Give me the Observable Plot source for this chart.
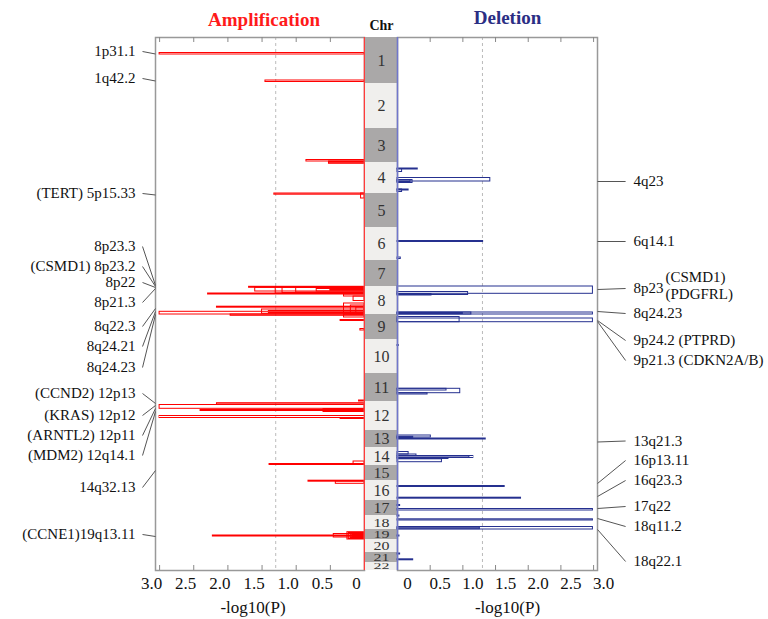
<!DOCTYPE html>
<html><head><meta charset="utf-8">
<script src="https://cdn.jsdelivr.net/npm/d3@7"></script>
<script src="https://cdn.jsdelivr.net/npm/@observablehq/plot@0.6"></script>
<style>
body{margin:0;background:#fff;}
#chart{position:relative;width:768px;height:619px;overflow:hidden;background:#fff;}
#chart svg{position:absolute;top:0;}
</style></head><body><div id="chart"></div>
<script>
// ---------- data ----------
const chromosomes = ["1","2","3","4","5","6","7","8","9","10","11","12","13","14","15","16","17","18","19","20","21","22"];
// relative chromosome lengths as drawn
const chrLengths = [46,45,34,31,34,33,26,28,25,34,28,29,17,18,15,20,15,14,10,13,10,8];
// amplification segments: [chr, start, end, -log10(P)]
const ampSegments = [
 [1,15.5,17,3.0],[1,43,44.5,1.45],
 [3,31.5,33,0.85],[3,33,34,0.52],[4,0,1.3,0.52],
 [5,0,1.2,1.32],[5,0,5,0.05],
 [8,0.3,1.3,1.69],[8,1.3,5,1.60],[8,0.5,7,1.30],[8,1,6.5,1.2],[8,1.5,6,1.0],[8,2.5,5,0.7],[8,3.2,4.2,0.5],
 [8,7,8,2.29],[8,8,10,0.3],[8,10,14.5,0.16],
 [8,20.2,21.2,2.16],[8,17,28,0.3],[8,19,28,0.2],[8,21,27,0.12],[8,23,27.3,1.5],[8,24.5,26.5,1.4],[8,25.3,28,3.0],
 [9,0,1.3,1.96],[9,0,3,0.3],[9,5.5,6.5,0.35],[9,14.5,16,0.06],
 [11,27,28,0.08],
 [12,1.7,3,2.16],[12,3.5,7.3,3.0],[12,8.5,9.5,2.4],[12,7.5,10.5,0.6],[12,8,10,0.45],
 [12,14.5,16.5,3.0],[12,16.5,17.5,0.35],
 [14,16.5,17.5,1.39],[14,14,17.5,0.16],
 [16,0.2,1.2,0.82],[16,1,3.3,0.42],
 [19,6,7,2.22],[19,4.5,8,0.45],[19,2.7,10,0.25],[19,3.5,9.5,0.23],[19,4.5,8.5,0.2],[19,5.5,7.5,0.18]
];
// deletion segments: [chr, start, end, -log10(P)]
const delSegments = [
 [4,6,7,0.31],[4,6.5,9.5,0.07],[4,15.5,19,1.42],[4,17.5,20.5,0.23],[4,18,19.5,0.2],
 [4,27,28,0.17],[4,27,29.5,0.07],
 [6,13.5,14.5,1.31],[6,30,31.5,0.05],
 [8,0,7.3,2.99],[8,5.5,8.5,1.08],[8,7.5,9,0.52],
 [8,26,28,2.99],[8,26,28,1.13],[8,26.5,27.5,1.0],
 [9,4,7.7,2.99],[9,2.5,7.7,0.95],
 [10,5.5,6.5,0.02],
 [11,15.3,19.7,0.96],[11,15.3,17,0.75],[11,19.7,21,0.46],
 [13,5,7,0.51],[13,6.3,8,0.24],[13,6.8,7.6,0.22],[13,8,9,1.35],
 [14,4.5,7,0.17],[14,7,8.5,0.29],[14,8.5,10.5,1.16],[14,8.8,10.2,1.1],[14,10.5,11.5,0.78],[14,11.8,14.7,0.68],
 [16,5.5,6.5,1.64],[16,17.2,18.2,1.89],
 [17,4.5,5.5,0.04],[17,8.5,10,2.99],
 [18,0,1,0.03],[18,3.8,5,2.99],[18,11.5,14,2.99],[18,12.3,13.7,1.26],
 [19,6,7,0.03],
 [21,1,2,0.04],[21,6.8,7.8,0.24]
];
// labels: [text, label position, anchor position] (genome-wide units)
const ampLabels = [
 ["1p31.1",14,16.5],["1q42.2",41,43.5],["(TERT) 5p15.33",156,157.5],
 ["8p23.3",209,248],["(CSMD1) 8p23.2",229,249],["8p22",245,250],["8p21.3",265,251],
 ["8q22.3",289,271],["8q24.21",309,274],["8q24.23",330,277],
 ["(CCND2) 12p13",356,366],["(KRAS) 12p12",378,368],["(ARNTL2) 12p11",398,371],["(MDM2) 12q14.1",418,374],
 ["14q32.13",450,433],["(CCNE1)19q13.11",497,499]
];
const delLabels = [
 ["4q23",144,144],["6q14.1",204,204],["8p23",251,252],["8q24.23",276,274],
 ["9p24.2 (PTPRD)",303,283],["9p21.3 (CDKN2A/B)",323,284],
 ["13q21.3",403.5,404.5],["16p13.11",423,446],["16q23.3",443,459],
 ["17q22",469,471],["18q11.2",489,481],["18q22.1",524,492]
];
const delNotes = [["(CSMD1)",240],["(PDGFRL)",257]];
const xTicks = [0,0.5,1,1.5,2,2.5,3];
const xTickLabels = ["0","0.5","1.0","1.5","2.0","2.5","3.0"];
const innerTicks = [0.5,1,1.5,2,2.5,3];
const threshold = 1.3;
const xMax = 3.06;

// ---------- derived ----------
let acc = 0;
const starts = chrLengths.map(l => { const s = acc; acc += l; return s; });
const total = acc;
const chrData = chromosomes.map((name,i) => ({name, i, len: chrLengths[i], y1: starts[i], y2: starts[i] + chrLengths[i]}));
const toSeg = ([c,s,e,v]) => ({y1: starts[c-1]+s, y2: starts[c-1]+e, v});
const amp = ampSegments.map(toSeg);
const del = delSegments.map(toSeg);
const lab = ([text,at,to]) => ({text, at, to});
const ampLab = ampLabels.map(lab), delLab = delLabels.map(lab);
const notes = delNotes.map(([text,at]) => ({text, at}));
const fmt = d => xTickLabels[xTicks.indexOf(d)];
const font = "'Liberation Serif','Times New Roman',serif";
const common = {height: 619, marginTop: 37, marginBottom: 49,
  style: {fontFamily: font, background: "transparent", overflow: "visible"}};
const yScale = {domain: [0, total], reverse: true, axis: null};

const left = Plot.plot({
  ...common, width: 366, marginLeft: 155, marginRight: 2,
  x: {domain: [0, xMax], reverse: true},
  y: yScale,
  marks: [
    Plot.ruleX([threshold], {stroke: "#bbb", strokeDasharray: "3,3"}),
    Plot.rect(amp, {x1: 0, x2: "v", y1: "y1", y2: "y2", stroke: "#ff0000", fill: "none", strokeWidth: 1}),
    Plot.frame({stroke: "#999", strokeWidth: 1.5}),
    Plot.ruleX([0], {stroke: "#ff3b3b", strokeWidth: 1.5}),
    Plot.ruleX(innerTicks, {x: d => d, y1: 0, y2: 5, stroke: "#888"}),
    Plot.ruleX(innerTicks, {x: d => d, y1: total - 5, y2: total, stroke: "#888"}),
    Plot.axisX({ticks: xTicks, anchor: "bottom", tickSize: 0, tickPadding: 6, tickFormat: fmt, fontSize: 17, dx: -8, label: null, fill: "#111"}),
    Plot.text(["-log10(P)"], {frameAnchor: "bottom", lineAnchor: "middle", dy: 37, dx: -7, fontSize: 17, fill: "#111"}),
    Plot.text(["Amplification"], {frameAnchor: "top", lineAnchor: "middle", dy: -18, dx: 4, fontSize: 19, fontWeight: "bold", fill: "#ff1a1a"}),
    Plot.link(ampLab, {x1: xMax, x2: xMax + 0.19, y1: "to", y2: "at", stroke: "#555", strokeWidth: 1}),
    Plot.text(ampLab, {y: "at", text: "text", frameAnchor: "left", dx: -20, textAnchor: "end", fontSize: 15, fill: "#111"})
  ]
});

const chrPlot = Plot.plot({
  ...common, width: 32, marginLeft: 0, marginRight: 0,
  x: {domain: [0, 1], axis: null},
  y: yScale,
  marks: [
    Plot.rect(chrData.filter(d => d.i % 2 === 0), {x1: 0, x2: 1, y1: "y1", y2: "y2", fill: "#aaa8a8"}),
    Plot.rect(chrData.filter(d => d.i % 2 === 1), {x1: 0, x2: 1, y1: "y1", y2: "y2", fill: "#f0efed"}),
    Plot.text(chrData, {x: 0.5, y: d => (d.y1 + d.y2) / 2, text: "name", fontSize: 16, fill: "#333"}),
    Plot.text(["Chr"], {frameAnchor: "top", lineAnchor: "middle", dy: -12, fontSize: 14, fontWeight: "bold", fill: "#111"})
  ]
});
// squeeze the numbers of short chromosomes vertically so they fit their band
chrPlot.querySelectorAll("text").forEach(t => {
  const i = chromosomes.indexOf(t.textContent);
  if (i < 0) return;
  const s = Math.min(1, (chrLengths[i] + 1.5) / 18.4);
  if (s >= 1) return;
  const tr = t.getAttribute("transform");
  if (tr) t.setAttribute("transform", tr + ` scale(1,${s})`);
  else {
    const x = +t.getAttribute("x") || 0, y = +t.getAttribute("y") || 0;
    t.setAttribute("transform", `translate(${x},${y}) scale(1,${s}) translate(${-x},${-y})`);
  }
});

const right = Plot.plot({
  ...common, width: 378, marginLeft: 7, marginRight: 171,
  x: {domain: [0, xMax]},
  y: yScale,
  marks: [
    Plot.ruleX([threshold], {stroke: "#bbb", strokeDasharray: "3,3"}),
    Plot.rect(del, {x1: 0, x2: "v", y1: "y1", y2: "y2", stroke: "#25308f", fill: "none", strokeWidth: 1}),
    Plot.frame({stroke: "#999", strokeWidth: 1.5}),
    Plot.ruleX([0], {stroke: "#7177cc", strokeWidth: 1.5}),
    Plot.ruleX(innerTicks, {x: d => d, y1: 0, y2: 5, stroke: "#888"}),
    Plot.ruleX(innerTicks, {x: d => d, y1: total - 5, y2: total, stroke: "#888"}),
    Plot.axisX({ticks: xTicks, anchor: "bottom", tickSize: 0, tickPadding: 6, tickFormat: fmt, fontSize: 17, dx: 10, label: null, fill: "#111"}),
    Plot.text(["-log10(P)"], {frameAnchor: "bottom", lineAnchor: "middle", dy: 37, dx: 10, fontSize: 17, fill: "#111"}),
    Plot.text(["Deletion"], {frameAnchor: "top", lineAnchor: "middle", dy: -20, dx: 10, fontSize: 19, fontWeight: "bold", fill: "#2b2e84"}),
    Plot.link(delLab, {x1: xMax, x2: xMax + 0.43, y1: "to", y2: "at", stroke: "#555", strokeWidth: 1}),
    Plot.text(delLab, {y: "at", text: "text", frameAnchor: "right", dx: 36, textAnchor: "start", fontSize: 15, fill: "#111"}),
    Plot.text(notes, {y: "at", text: "text", frameAnchor: "right", dx: 68, textAnchor: "start", fontSize: 15, fill: "#111"})
  ]
});

const chart = document.getElementById("chart");
left.style.left = "0px";
chrPlot.style.left = "365px";
right.style.left = "390px";
chart.append(left, chrPlot, right);
</script>
</body></html>
